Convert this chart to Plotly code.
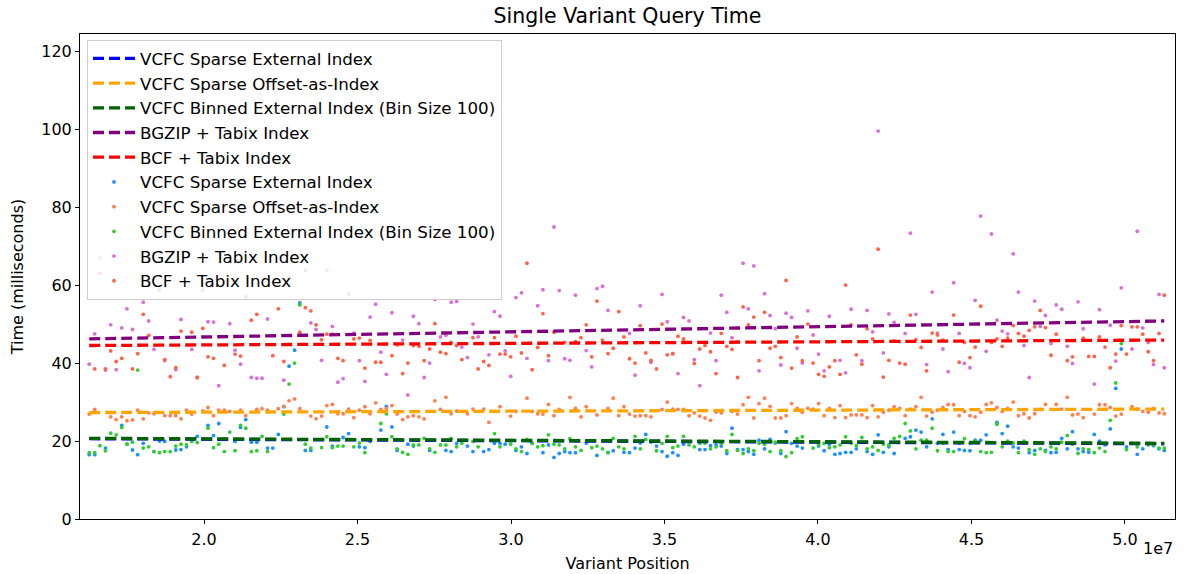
import plotly.graph_objects as go

_ = None

# Variant positions (units of 1e7 base pairs)
positions_e7 = [
    1.626, 1.644, 1.661, 1.679, 1.696, 1.714, 1.732, 1.749, 1.767, 1.784,
    1.802, 1.820, 1.837, 1.855, 1.872, 1.890, 1.908, 1.925, 1.943, 1.960,
    1.978, 1.996, 2.013, 2.031, 2.048, 2.066, 2.084, 2.101, 2.119, 2.136,
    2.154, 2.172, 2.189, 2.207, 2.224, 2.242, 2.260, 2.277, 2.295, 2.312,
    2.330, 2.348, 2.365, 2.383, 2.400, 2.418, 2.436, 2.453, 2.471, 2.488,
    2.506, 2.524, 2.541, 2.559, 2.576, 2.594, 2.612, 2.629, 2.647, 2.664,
    2.682, 2.700, 2.717, 2.735, 2.752, 2.770, 2.788, 2.805, 2.823, 2.840,
    2.858, 2.876, 2.893, 2.911, 2.928, 2.946, 2.964, 2.981, 2.999, 3.016,
    3.034, 3.052, 3.069, 3.087, 3.104, 3.122, 3.140, 3.157, 3.175, 3.192,
    3.210, 3.228, 3.245, 3.263, 3.280, 3.298, 3.316, 3.333, 3.351, 3.368,
    3.386, 3.404, 3.421, 3.439, 3.456, 3.474, 3.492, 3.509, 3.527, 3.544,
    3.562, 3.580, 3.597, 3.615, 3.632, 3.650, 3.668, 3.685, 3.703, 3.720,
    3.738, 3.756, 3.773, 3.791, 3.808, 3.826, 3.844, 3.861, 3.879, 3.896,
    3.914, 3.932, 3.949, 3.967, 3.984, 4.002, 4.020, 4.037, 4.055, 4.072,
    4.090, 4.108, 4.125, 4.143, 4.160, 4.178, 4.196, 4.213, 4.231, 4.248,
    4.266, 4.284, 4.301, 4.319, 4.336, 4.354, 4.372, 4.389, 4.407, 4.424,
    4.442, 4.460, 4.477, 4.495, 4.512, 4.530, 4.548, 4.565, 4.583, 4.600,
    4.618, 4.636, 4.653, 4.671, 4.688, 4.706, 4.724, 4.741, 4.759, 4.776,
    4.794, 4.812, 4.829, 4.847, 4.864, 4.882, 4.900, 4.917, 4.935, 4.952,
    4.970, 4.988, 5.005, 5.023, 5.040, 5.058, 5.076, 5.093, 5.111, 5.128,
]

# Query times (ms); _ = point not distinguishable in the picture
sparse_external = [
    16.5, 16.5, _, 18.2, _, _, 24.0, 19.2, 17.7, 16.5,
    19.4, _, 17.3, 20.0, 19.9, _, 17.7, 17.8, 18.5, _,
    21.2, 20.4, 24.0, 21.4, 24.5, 20.4, _, 19.9, 23.5, 25.5,
    19.7, 19.7, _, 18.2, 18.2, 21.7, 28.8, 39.2, 43.3, 55.4,
    17.6, 17.6, _, _, 23.6, 18.7, _, 20.9, 21.9, _,
    18.5, 18.3, 19.9, _, 22.8, 28.9, 23.6, 17.6, _, 19.2,
    18.7, _, _, 17.6, _, _, 17.6, 17.3, 19.4, _,
    18.7, 17.3, _, 17.3, 17.8, 19.4, 19.4, 19.2, _, 17.6,
    18.5, 16.8, 19.4, _, 17.0, 19.0, 15.8, 16.8, 17.3, 17.0,
    17.0, _, 19.5, _, 16.3, _, 17.0, 17.5, _, 17.1,
    17.0, 18.2, 19.5, 21.7, _, 18.7, 17.3, 16.1, 17.0, 16.3,
    19.2, _, _, 17.8, 17.8, 18.8, 19.0, 18.7, 16.8, 23.3,
    17.8, 17.8, 17.3, 16.6, 20.2, 18.0, 20.4, 19.5, 16.8, 22.4,
    19.4, 18.7, 18.2, _, _, 18.7, 17.5, 19.2, 16.6, 16.8,
    17.1, 17.1, 18.0, _, 17.3, 16.6, 21.6, 17.1, 18.5, 16.8,
    _, 20.7, 21.1, 22.8, 22.3, 18.5, 25.7, 19.4, 21.7, 17.8,
    22.3, 17.8, 17.6, 17.5, 20.2, 20.2, 21.6, _, 24.8, 21.9,
    23.8, 18.5, 18.2, 19.4, 17.0, 17.6, _, 17.6, 17.0, 17.1,
    20.7, 18.0, 22.4, 18.0, 17.3, 17.1, 21.7, 20.0, 19.0, 23.1,
    33.5, 43.6, 18.5, 19.4, 16.6, 18.0, 19.4, 18.8, 18.0, 17.6,
]

sparse_offset = [
    26.9, 28.1, _, _, 26.2, 25.5, 26.2, 25.2, 25.4, 27.9,
    25.7, 27.2, 27.0, _, 26.5, 26.5, 26.5, 25.7, 27.9, 26.9,
    _, 27.7, 28.6, 26.5, 27.9, 27.9, 27.6, _, 27.9, 26.5,
    _, 28.1, 28.3, 27.9, _, 28.3, 28.9, 30.3, 30.8, 28.3,
    _, 26.4, 25.7, 26.4, 29.1, 29.4, 27.0, 27.0, 28.2, 26.0,
    27.9, 28.8, 27.0, 29.8, 28.1, 28.4, 29.1, 26.9, 25.5, 26.2,
    26.5, 26.2, 25.7, _, 30.3, 28.1, 31.2, 27.0, 27.7, _,
    27.0, 28.2, _, 28.2, 24.8, _, 28.8, _, 26.4, 27.6,
    _, 31.0, 27.6, 27.0, 26.9, 29.4, 26.5, 28.1, _, 31.2,
    28.4, 26.2, 28.8, _, 26.7, _, 28.4, 31.0, 26.5, 28.8,
    26.9, 26.4, 26.5, 26.5, 26.2, _, 28.1, 30.0, 28.2, 28.1,
    28.1, 26.5, 27.2, 26.4, 25.9, 25.3, 27.4, 27.2, _, 27.6,
    26.9, 29.3, 31.2, 25.9, 29.6, 31.0, 28.9, 25.9, 25.9, 26.5,
    29.6, 28.4, 27.4, 28.4, 28.2, 29.6, 26.5, 28.4, 26.0, 29.1,
    26.0, 26.7, 26.7, 26.7, 26.0, 29.1, 26.2, 27.4, 27.9, 28.8,
    28.4, 26.5, 28.2, 28.8, 31.2, 26.4, 27.4, 27.9, 28.6, 29.4,
    29.3, 26.5, 27.6, 26.5, 26.2, 27.4, 29.4, 29.8, 28.6, 27.6,
    28.4, 30.0, 26.5, 27.0, 25.9, 27.0, 28.1, 29.4, _, 29.4,
    28.2, 31.2, 26.7, 26.9, 26.0, _, 26.9, 29.3, 29.3, 28.6,
    26.4, 26.9, _, 28.8, 28.2, 27.6, 27.4, 28.4, 27.2, 27.0,
]

binned_external = [
    17.0, 17.0, 18.8, 17.5, 22.0, 21.6, 23.5, 19.2, 19.7, 38.2,
    18.2, 18.5, 17.3, 17.0, 17.3, 17.3, 18.7, 19.2, 19.0, 19.9,
    19.6, _, 23.3, 18.3, 19.2, 17.3, 22.3, 17.5, 24.0, 23.3,
    17.3, 17.5, 21.2, 17.3, _, _, 26.9, 34.6, 40.0, 54.9,
    19.2, 18.2, _, 18.3, 21.1, 18.3, 18.7, 18.7, _, 18.5,
    19.5, 17.0, _, _, 24.5, 27.0, 21.1, 18.0, 17.1, 16.6,
    19.0, 19.0, 20.7, 18.0, 17.1, 19.0, 19.0, 20.7, 18.5, 19.4,
    _, 19.9, 18.5, _, _, 21.9, 18.5, _, 19.2, 18.0,
    17.3, 20.4, 19.4, 18.5, 18.8, 21.6, 19.2, 19.0, 18.0, 20.6,
    18.5, 17.6, _, 18.3, 18.7, 18.0, 17.1, 20.7, 18.5, 18.0,
    _, 21.2, 18.0, 20.4, 19.7, 17.5, 19.4, 21.2, 18.3, 18.7,
    21.2, 19.0, 18.5, 19.4, 19.5, 18.0, 18.5, 19.4, 17.5, 21.7,
    17.6, 16.8, 18.0, 17.5, 19.4, 19.2, 17.3, 19.7, 17.5, 16.0,
    17.0, 20.6, 21.1, _, 18.2, 19.0, 19.4, 18.3, 18.5, 19.0,
    21.1, 19.4, 18.8, 20.9, 18.0, 18.5, 17.6, 19.2, 19.0, 20.7,
    21.2, 24.5, 22.6, 18.0, 20.2, 20.2, 23.3, 17.5, 19.4, 17.3,
    17.3, 19.4, 20.6, 19.4, 20.0, 17.3, 17.0, 17.1, 24.3, 18.5,
    20.0, 19.5, 17.0, 20.0, 17.8, 16.6, 18.0, 17.3, 18.5, 18.0,
    19.7, 21.4, 19.2, 16.8, 18.0, 17.8, 17.0, 18.2, 17.3, 25.3,
    34.9, 45.0, 17.8, _, 18.5, _, 19.0, 19.0, 18.2, 18.2,
]

bgzip_tabix = [
    39.7, 47.5, 67.0, 38.2, 49.8, 38.3, 49.0, 53.9, 48.6, _,
    55.6, 50.8, 43.5, 58.7, 40.6, _, 38.3, 51.2, _, 43.5,
    36.3, 58.7, 50.6, 50.5, 34.2, _, 50.1, 43.3, 39.7, 57.0,
    36.3, 36.1, 36.1, 51.3, _, _, 35.6, _, _, 47.6,
    63.8, 50.3, 48.6, 40.7, 63.8, 49.4, 35.1, 36.0, 57.7, 47.7,
    40.6, 35.3, 51.8, 55.1, 42.8, 37.1, 52.9, _, 45.9, 31.8,
    52.0, 50.1, 36.3, 40.0, 56.3, 46.7, 47.1, 55.6, 55.8, 44.1,
    41.4, 50.0, 46.7, _, 42.1, 53.2, 52.0, 43.1, 36.6, 56.8,
    58.0, 41.2, _, 54.7, 58.8, 40.6, 74.9, 58.6, 41.1, 40.7,
    57.4, _, 43.2, 39.0, 59.1, 59.7, 53.5, _, _, _,
    47.6, 36.9, 54.7, _, 40.2, _, 57.6, 50.6, 42.4, 37.3,
    51.7, 50.8, 40.9, 34.2, 45.3, 47.7, 40.6, 57.4, 53.0, 46.5,
    45.5, 65.6, 53.9, 64.9, 38.0, 57.8, 52.2, 48.8, 39.5, 52.8,
    51.7, 43.8, 40.0, 53.4, 47.2, 42.3, 38.0, 52.0, _, 40.7,
    37.5, 53.8, _, 40.6, 53.5, 48.0, 99.5, 42.6, 52.6, 50.4,
    45.5, 47.6, 73.3, 52.5, _, 39.6, 58.2, 47.7, 43.6, 37.8,
    60.6, 47.6, 39.9, 38.8, 56.1, 77.7, 43.0, 73.1, 51.0, 48.2,
    47.5, 68.0, 58.2, 44.5, 36.3, 55.9, 49.4, 52.2, 45.0, 54.9,
    53.8, 44.3, 39.9, 55.7, 48.8, _, 34.6, 53.7, _, 49.7,
    40.5, 59.3, _, 43.6, 73.8, 49.0, 45.3, 39.6, 57.6, 38.8,
]

bcf_tabix = [
    _, 38.5, 63.0, 38.5, 43.1, 40.4, 41.2, _, 38.5, 42.4,
    52.5, 47.1, _, _, 40.9, 36.5, 38.8, 48.2, _, 47.9,
    36.3, 48.9, 41.6, 41.2, _, 39.4, _, 42.3, 41.8, _,
    51.0, 52.5, _, _, 41.9, 53.9, 40.4, 62.0, _, 47.9,
    54.2, 53.4, 49.8, 46.0, 47.4, 47.4, 41.2, 40.6, _, 46.2,
    46.4, 38.7, 45.8, 40.2, 40.2, _, 41.9, 44.7, 37.3, 40.0,
    44.5, 44.3, 40.6, 43.6, 50.1, 42.8, 42.4, 45.3, 44.5, 40.9,
    _, 46.5, 38.5, 40.4, 39.4, 46.5, 42.3, 42.3, 41.6, 46.9,
    42.6, 65.6, 38.3, 44.0, 52.7, 41.9, 47.9, _, 45.3, _,
    45.5, 46.5, 49.8, 41.6, 55.9, 45.9, 42.4, 43.8, 53.2, 46.7,
    41.1, 40.0, 49.6, 42.6, 40.7, 38.5, 50.0, 42.1, 42.4, 46.9,
    46.2, _, 39.9, 43.6, 44.5, 42.9, 37.3, 47.6, 44.3, 43.5,
    36.3, 54.4, 49.8, 51.8, 40.6, 53.0, 43.8, 44.3, 41.4, 61.2,
    38.7, 46.7, 40.6, 50.0, 40.0, 37.1, 36.6, 39.0, 40.6, 37.1,
    60.0, 49.8, 42.1, 39.7, 48.8, 46.2, 69.2, 36.4, 40.7, 45.7,
    40.0, 39.7, 52.3, 46.0, 44.0, 38.0, 47.7, 47.2, 45.9, _,
    52.3, 40.2, 45.3, 41.4, 44.1, 54.6, _, 45.3, 46.2, 44.3,
    46.4, 49.6, 47.6, 46.9, 48.4, 49.3, 53.5, 49.1, 42.0, 47.4,
    _, 40.6, 41.6, _, 46.4, 41.7, 41.7, 46.7, 44.1, 38.8,
    42.3, 49.6, 42.3, 49.3, 49.3, 47.4, 42.9, 40.6, 47.6, 57.4,
]

# Linear trend lines: value at first and last position (ms)
sparse_external_trend = [20.6, 19.3]
sparse_offset_trend = [27.3, 28.2]
binned_external_trend = [20.7, 19.4]
bgzip_tabix_trend = [46.2, 50.8]
bcf_tabix_trend = [44.5, 45.9]

series_names = [
    "VCFC Sparse External Index",
    "VCFC Sparse Offset-as-Index",
    "VCFC Binned External Index (Bin Size 100)",
    "BGZIP + Tabix Index",
    "BCF + Tabix Index",
]
x_tick_values_e7 = [2.0, 2.5, 3.0, 3.5, 4.0, 4.5, 5.0]
y_tick_values = [0, 20, 40, 60, 80, 100, 120]

positions = [p * 1e7 for p in positions_e7]
trend_x = [positions[0], positions[-1]]

scatter_data = [sparse_external, sparse_offset, binned_external, bgzip_tabix, bcf_tabix]
scatter_colors = ["#1E90FF", "#FF7F50", "#32CD32", "#DA70D6", "#FF6347"]
trend_data = [sparse_external_trend, sparse_offset_trend, binned_external_trend,
              bgzip_tabix_trend, bcf_tabix_trend]
trend_colors = ["#0000FF", "#FFA500", "#006400", "#800080", "#FF0000"]

FONT = "DejaVu Sans"
fig = go.Figure()

for k, (name, vals, col) in enumerate(zip(series_names, scatter_data, scatter_colors)):
    fig.add_trace(go.Scatter(
        x=positions, y=vals, mode="markers", name=name,
        marker=dict(color=col, size=3.8, line=dict(width=0)),
        legendrank=6 + k,
    ))

for k, (name, vals, col) in enumerate(zip(series_names, trend_data, trend_colors)):
    fig.add_trace(go.Scatter(
        x=trend_x, y=vals, mode="lines", name=name,
        line=dict(color=col, width=3.3, dash="11px,5px"),
        legendrank=1 + k,
    ))

axis_common = dict(
    showgrid=False, zeroline=False, showline=True, linecolor="black", linewidth=1,
    mirror=True, ticks="outside", ticklen=4, tickwidth=1, tickcolor="black",
    tickfont=dict(family=FONT, size=16, color="black"),
)

W, H = 1185, 574
fig.update_layout(
    width=W, height=H,
    margin=dict(l=80, r=10, t=34, b=55, autoexpand=False),
    paper_bgcolor="white", plot_bgcolor="white",
    font=dict(family=FONT, size=16, color="black"),
    title=dict(text="Single Variant Query Time", x=(80 + 1095 / 2) / W, xanchor="center",
               y=1 - 16 / H, yanchor="middle", yref="container",
               font=dict(family=FONT, size=20.5, color="black")),
    xaxis=dict(range=[1.596e7, 5.163e7],
               tickvals=[v * 1e7 for v in x_tick_values_e7],
               ticktext=[f"{v:.1f}" for v in x_tick_values_e7],
               ticklabelstandoff=2,
               title=dict(text="Variant Position", standoff=9,
                          font=dict(family=FONT, size=16, color="black")),
               **axis_common),
    yaxis=dict(range=[0, 124.4], tickvals=y_tick_values,
               title=dict(text="Time (milliseconds)", standoff=13,
                          font=dict(family=FONT, size=16, color="black")),
               **axis_common),
    legend=dict(x=0.0064, y=0.9876, xanchor="left", yanchor="top",
                bgcolor="rgba(255,255,255,0.8)", bordercolor="#CCCCCC", borderwidth=1,
                itemwidth=42,
                font=dict(family=FONT, size=16.7, color="black"), tracegroupgap=0),
    showlegend=True,
    annotations=[dict(text="1e7", xref="paper", yref="paper", x=1.0, y=-29 / 485,
                      xanchor="right", yanchor="middle", showarrow=False,
                      font=dict(family=FONT, size=16, color="black"))],
)

# remove the browser's default 8 px page margin so the figure sits at the window origin
fig.write_html("out.html", config={"displayModeBar": False},
               post_script="document.body.style.margin='0';document.body.style.overflow='hidden';")
